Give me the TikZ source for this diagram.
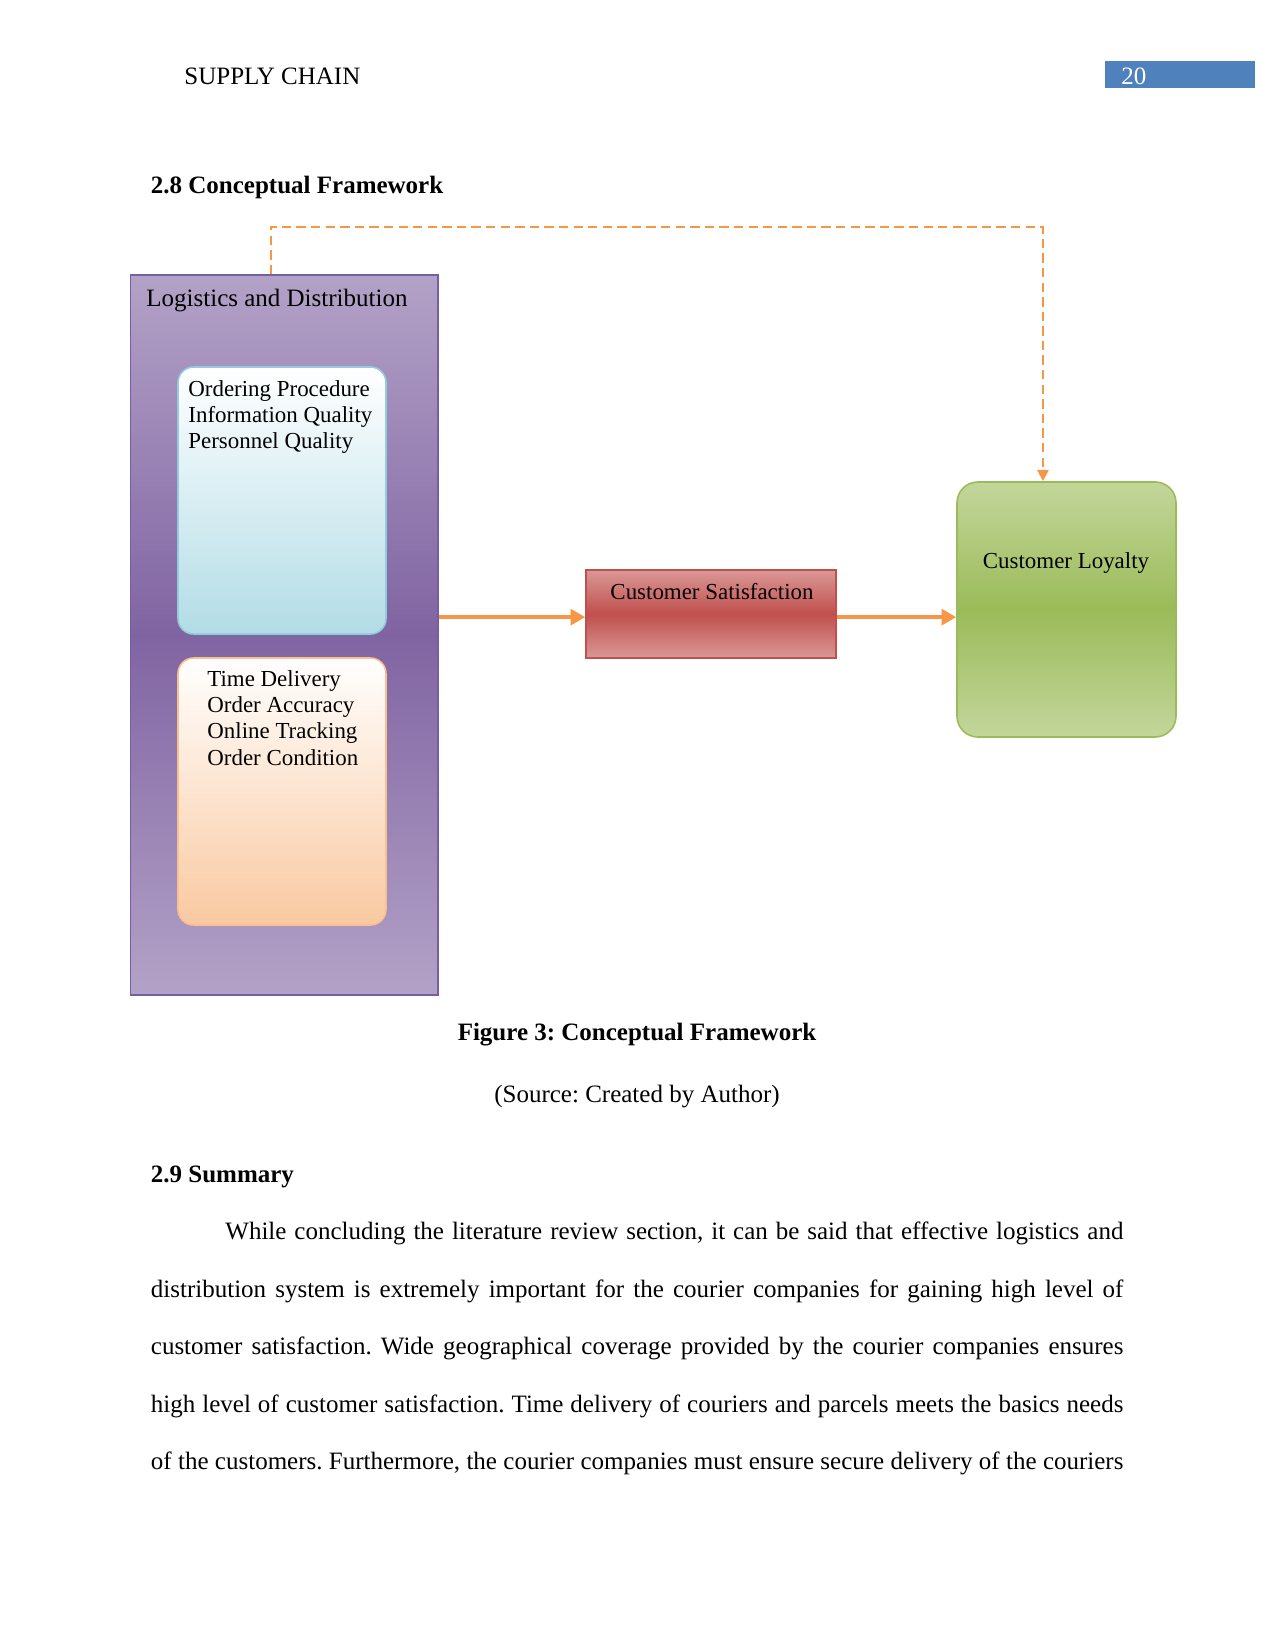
\documentclass[tikz,border=0pt]{standalone}
\usepackage{fontspec}
\setmainfont{Liberation Serif}
\usetikzlibrary{arrows.meta}
\frenchspacing
\definecolor{purT}{HTML}{B3A2C7}
\definecolor{purM}{HTML}{8064A2}
\definecolor{purD}{HTML}{7460A0}
\definecolor{bluB}{HTML}{B2DCE6}
\definecolor{bluD}{HTML}{93CDDD}
\definecolor{orgB}{HTML}{F9C9A0}
\definecolor{orgD}{HTML}{FAC090}
\definecolor{redT}{HTML}{DA9896}
\definecolor{redM}{HTML}{C0504D}
\definecolor{redD}{HTML}{C0504D}
\definecolor{grnT}{HTML}{C3D69B}
\definecolor{grnM}{HTML}{9BBB59}
\definecolor{grnD}{HTML}{9BBB59}
\definecolor{arrC}{HTML}{F79646}
\definecolor{pgC}{HTML}{4F81BD}
\begin{document}
\begin{tikzpicture}[x=0.48pt,y=-0.48pt,
  txt/.style={inner sep=0pt, anchor=base west, font=\fontsize{12}{14}\selectfont},
  btxt/.style={txt, font=\fontsize{12}{14}\selectfont\bfseries},
  ctxt/.style={inner sep=0pt, anchor=base, font=\fontsize{12}{14}\selectfont},
  inlist/.style={inner sep=0pt, anchor=north west, align=left, font=\fontsize{11}{12.6}\selectfont},
  bodyline/.style={inner sep=0pt, anchor=base west, font=\fontsize{12}{14}\selectfont},
  arr/.style={draw=arrC, line width=2.2pt, -{Triangle[length=7pt,width=7.5pt]}},
  dashln/.style={draw=arrC, line width=1pt, dash pattern=on 4.5pt off 2.5pt, -{Triangle[length=5.5pt,width=5.5pt]}},
  box/.style={inner sep=0pt, line width=0.75pt}
]
\fill[white] (0,0) rectangle (1275,1651);
\path[use as bounding box] (0,0) rectangle (1275,1651);

% header
\node[txt] (hdr) at (184,85) {SUPPLY CHAIN};
\node[box, fill=pgC, minimum width=72pt, minimum height=12.96pt] (pgbox) at (1180,74.5) {};
\node[txt, text=white] (pgno) at (1121,85) {20};

\node[btxt] (sec) at (150.5,194) {2.8 Conceptual Framework};

% diagram boxes
\node[box, draw=purD, top color=purT, bottom color=purT, middle color=purM,
      minimum width=147.6pt, minimum height=345.6pt] (log) at (284.25,635) {};
\node[txt] (logt) at (146,306) {Logistics and Distribution};

\node[box, draw=bluD, rounded corners=7.5pt, top color=white, bottom color=bluB,
      minimum width=99.84pt, minimum height=128.16pt] (blu) at (282,500.5) {};
\node[inlist] (blut) at (188,380) {Ordering Procedure\\Information Quality\\Personnel Quality};

\node[box, draw=orgD, rounded corners=7.5pt, top color=white, bottom color=orgB,
      minimum width=99.84pt, minimum height=128.16pt] (org) at (282,791.5) {};
\node[inlist] (orgt) at (207,670) {Time Delivery\\Order Accuracy\\Online Tracking\\Order Condition};

\node[box, draw=redD, top color=redT, bottom color=redT, middle color=redM,
      minimum width=120pt, minimum height=42.24pt] (sat) at (711,614) {};
\node[ctxt, font=\fontsize{11}{12.6}\selectfont] (satt) at (712,599) {Customer Satisfaction};

\node[box, draw=grnD, rounded corners=10pt, top color=grnT, bottom color=grnT, middle color=grnM,
      minimum width=105.12pt, minimum height=122.4pt] (loy) at (1066.5,609.5) {};
\node[ctxt, font=\fontsize{11}{12.6}\selectfont] (loyt) at (1066,568) {Customer Loyalty};

% connectors
\draw[arr] ([yshift=-1.5pt]log.east |- sat.west) -- ([yshift=-1.5pt]sat.west);
\draw[arr] ([yshift=-1.5pt]sat.east) -- ([yshift=-1.5pt]loy.west |- sat.east);
\coordinate (dtop) at (0,227);
\draw[dashln] ([xshift=-6.5pt]log.north) -- ([xshift=-6.5pt]log.north |- dtop)
   -- ([xshift=-11.3pt]loy.north |- dtop) -- ([xshift=-11.3pt]loy.north);

% caption
\node[ctxt, font=\fontsize{12}{14}\selectfont\bfseries] (cap) at (637,1040) {Figure 3: Conceptual Framework};
\node[ctxt] (src) at (637,1102) {(Source: Created by Author)};

\node[btxt] (sec2) at (150.5,1182) {2.9 Summary};

\node[bodyline] (p1) at (225,1239) {\makebox[431pt][s]{While concluding the literature review section, it can be said that effective logistics and}};
\node[bodyline] (p2) at (150.5,1297) {\makebox[466.8pt][s]{distribution system is extremely important for the courier companies for gaining high level of}};
\node[bodyline] (p3) at (150.5,1354) {\makebox[466.8pt][s]{customer satisfaction. Wide geographical coverage provided by the courier companies ensures}};
\node[bodyline] (p4) at (150.5,1412) {\makebox[466.8pt][s]{high level of customer satisfaction. Time delivery of couriers and parcels meets the basics needs}};
\node[bodyline] (p5) at (150.5,1469) {\makebox[466.8pt][s]{of the customers. Furthermore, the courier companies must ensure secure delivery of the couriers}};
\end{tikzpicture}
\end{document}
